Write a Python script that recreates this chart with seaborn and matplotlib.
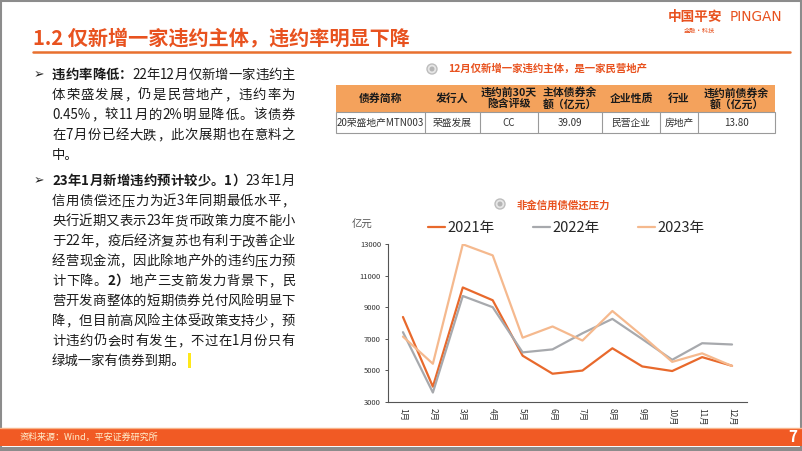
import matplotlib
matplotlib.use("Agg")
import matplotlib.pyplot as plt
import pandas as pd
import seaborn as sns
from matplotlib.patches import Rectangle, Circle

# chart data (亿元)
months = ["1月", "2月", "3月", "4月", "5月", "6月", "7月", "8月", "9月", "10月", "11月", "12月"]
v2021 = [8380, 3970, 10250, 9440, 5930, 4790, 4990, 6400, 5250, 4960, 5840, 5290]
v2022 = [7420, 3600, 9710, 9000, 6140, 6330, 7350, 8260, 6980, 5670, 6720, 6640]
v2023 = [7140, 5420, 12980, 12280, 7070, 7780, 6890, 8760, 7190, 5540, 6080, 5280]
years = ["2021年", "2022年", "2023年"]
colors = ["#E8692C", "#A7A9AD", "#F5B98E"]

# table data
tbl_head = ["债券简称", "发行人", "违约前30天\n隐含评级", "主体债券余\n额（亿元）", "企业性质", "行业", "违约前债券余\n额（亿元）"]
tbl_row = ["20荣盛地产MTN003", "荣盛发展", "CC", "39.09", "民营企业", "房地产", "13.80"]

# left text, one entry per line: list of (text, bold)
para = [
    [("违约率降低：", True), ("22年12月仅新增一家违约主", False)],
    [("体荣盛发展，仍是民营地产，违约率为", False)],
    [("0.45%，较11月的2%明显降低。该债券", False)],
    [("在7月份已经大跌，此次展期也在意料之", False)],
    [("中。", False)],
    [("23年1月新增违约预计较少。1）", True), ("23年1月", False)],
    [("信用债偿还压力为近3年同期最低水平，", False)],
    [("央行近期又表示23年货币政策力度不能小", False)],
    [("于22年，疫后经济复苏也有利于改善企业", False)],
    [("经营现金流，因此除地产外的违约压力预", False)],
    [("计下降。", False), ("2）", True), ("地产三支箭发力背景下，民", False)],
    [("营开发商整体的短期债券兑付风险明显下", False)],
    [("降，但目前高风险主体受政策支持少，预", False)],
    [("计违约仍会时有发生，不过在1月份只有", False)],
    [("绿城一家有债券到期。", False)],
]
line_y = [75, 95, 115, 135, 155, 181, 201, 221, 241, 261, 281, 301, 321, 341, 361]
bullets = [0, 5]
last_lines = [4, 14]

sns.set_style("white")
plt.rcParams["font.family"] = ["Noto Sans CJK SC", "DejaVu Sans"]

RED = "#E8521F"
fig = plt.figure(figsize=(8.02, 4.51), dpi=100)
bg = fig.add_axes([0, 0, 1, 1])
bg.set_xlim(0, 802)
bg.set_ylim(451, 0)
bg.axis("off")

# slide frame
bg.add_patch(Rectangle((0.5, 0.5), 800.5, 449, fill=False, ec="#8C8C8C", lw=1.5))

# title and logo
bg.text(33, 38, "1.2 仅新增一家违约主体，违约率明显下降", fontsize=14.5, fontweight="bold",
        color=RED, va="center", ha="left")
bg.plot([33, 790], [52, 52], color="#E8702F", lw=1.8)
bg.text(668, 17, "中国平安", fontsize=9.8, fontweight="bold", color=RED, va="center")
bg.text(730, 17, "PINGAN", fontsize=9.8, color=RED, va="center", family="DejaVu Sans")
bg.text(684, 31, "金融·科技", fontsize=4.5, color=RED, va="center")

# left text, justified between x=52 and x=295
FS = 9.6
r = fig.canvas.get_renderer()


def tokens(runs):
    out = []
    for s, bold in runs:
        buf = ""
        for ch in s:
            if ord(ch) < 128:
                buf += ch
            else:
                if buf:
                    out.append((buf, bold))
                    buf = ""
                out.append((ch, bold))
        if buf:
            out.append((buf, bold))
    return out


for i, (runs, y) in enumerate(zip(para, line_y)):
    if i in bullets:
        bg.text(34, y, "➢", fontsize=9, color="#222", va="center", family=["DejaVu Sans"])
    if i in last_lines:
        t = bg.text(52, y, runs[0][0], fontsize=FS, color="#1A1A1A", va="center", ha="left")
        x = 52 + t.get_window_extent(renderer=r).width
        if i == len(para) - 1:
            bg.add_patch(Rectangle((x + 2, y - 8), 3.5, 15, color="#FFE81A", lw=0))
        continue
    toks = tokens(runs)
    arts = []
    for s, bold in toks:
        t = bg.text(0, y, s, fontsize=FS, fontweight="bold" if bold else "normal",
                    color="#1A1A1A", va="center", ha="left")
        arts.append((t, t.get_window_extent(renderer=r).width))
    natural = sum(w for _, w in arts)
    gap = (295 - 52 - natural) / (len(arts) - 1)
    x = 52
    for t, w in arts:
        t.set_x(x)
        x += w + gap

# table
bg.add_patch(Circle((432, 69), 5, fc="#E6E6E6", ec="#BDBDBD", lw=1))
bg.add_patch(Circle((432, 69), 2.5, fc="#B5B5B5", lw=0))
bg.text(448, 69, "12月仅新增一家违约主体，是一家民营地产", fontsize=7.5, color=RED,
        fontweight="bold", va="center")
cols = [336, 425, 480, 538, 602, 660, 698, 775]
bg.add_patch(Rectangle((cols[0], 85), cols[-1] - cols[0], 27, color="#F4A25C", lw=0))
bg.add_patch(Rectangle((cols[0], 112), cols[-1] - cols[0], 21, fc="white", ec="#9A9A9A", lw=0.8))
for k in range(len(tbl_head)):
    cx = (cols[k] + cols[k + 1]) / 2
    bg.text(cx, 98.5, tbl_head[k], fontsize=7.8, fontweight="bold", color="#1A1A1A",
            ha="center", va="center", linespacing=1.05)
    bg.text(cx, 123, tbl_row[k], fontsize=7, color="#333333", ha="center", va="center")
    if k > 0:
        bg.plot([cols[k], cols[k]], [112, 133], color="#9A9A9A", lw=0.8)

# chart title
bg.add_patch(Circle((500, 204), 5, fc="#E6E6E6", ec="#BDBDBD", lw=1))
bg.add_patch(Circle((500, 204), 2.5, fc="#B5B5B5", lw=0))
bg.text(517, 205, "非金信用债偿还压力", fontsize=7.5, color=RED, fontweight="bold", va="center")
bg.text(352, 225, "亿元", fontsize=7.5, color="#555555", va="center")

# footer
bg.add_patch(Rectangle((0, 429), 802, 17, color="#F15A24", lw=0))
bg.plot([0, 802], [427.5, 427.5], color="#F8B48A", lw=1)
bg.plot([0, 802], [448, 448], color="#8C8C8C", lw=1.5)
bg.text(20, 437.5, "资料来源：Wind，平安证券研究所", fontsize=6.5, color="#FFF1D0", va="center")
bg.text(793, 437, "7", fontsize=11, color="white", fontweight="bold", va="center", ha="center")

# line chart
ax = fig.add_axes([388 / 802, 1 - 402 / 451, (747 - 388) / 802, (402 - 244) / 451])
ax.patch.set_alpha(0)
df = pd.DataFrame({
    "month": months * 3,
    "value": v2021 + v2022 + v2023,
    "year": [years[0]] * 12 + [years[1]] * 12 + [years[2]] * 12,
})
sns.lineplot(data=df, x="month", y="value", hue="year", palette=colors, sort=False,
             linewidth=1.6, ax=ax)
ax.set_xlim(-0.5, 11.5)
ax.set_ylim(3000, 13000)
ax.set_yticks(range(3000, 13001, 2000))
ax.set_xticks(range(12))
ax.set_xticklabels(months, rotation=-90, fontsize=6, color="#333333")
ax.set_xticks([k + 0.5 for k in range(-1, 12)], minor=True)
ax.tick_params(axis="x", which="major", length=0, pad=4)
ax.tick_params(axis="x", which="minor", length=3, width=0.7, color="#555555", direction="out")
ax.tick_params(axis="y", length=2, width=0.7, color="#555555", labelsize=5.5,
               labelcolor="#333333", pad=3, left=True)
ax.set_xlabel("")
ax.set_ylabel("")
for s in ["top", "right"]:
    ax.spines[s].set_visible(False)
for s in ["left", "bottom"]:
    ax.spines[s].set_color("#555555")
    ax.spines[s].set_linewidth(0.8)
h, l = ax.get_legend_handles_labels()
ax.legend(h, l, ncol=3, loc="center left", bbox_to_anchor=(428 / 802, 1 - 228 / 451),
          bbox_transform=fig.transFigure, frameon=False, fontsize=10.5, handlelength=1.2,
          handletextpad=0.15, columnspacing=2.6, borderaxespad=0, borderpad=0)

fig.savefig("out.png", dpi=100)
